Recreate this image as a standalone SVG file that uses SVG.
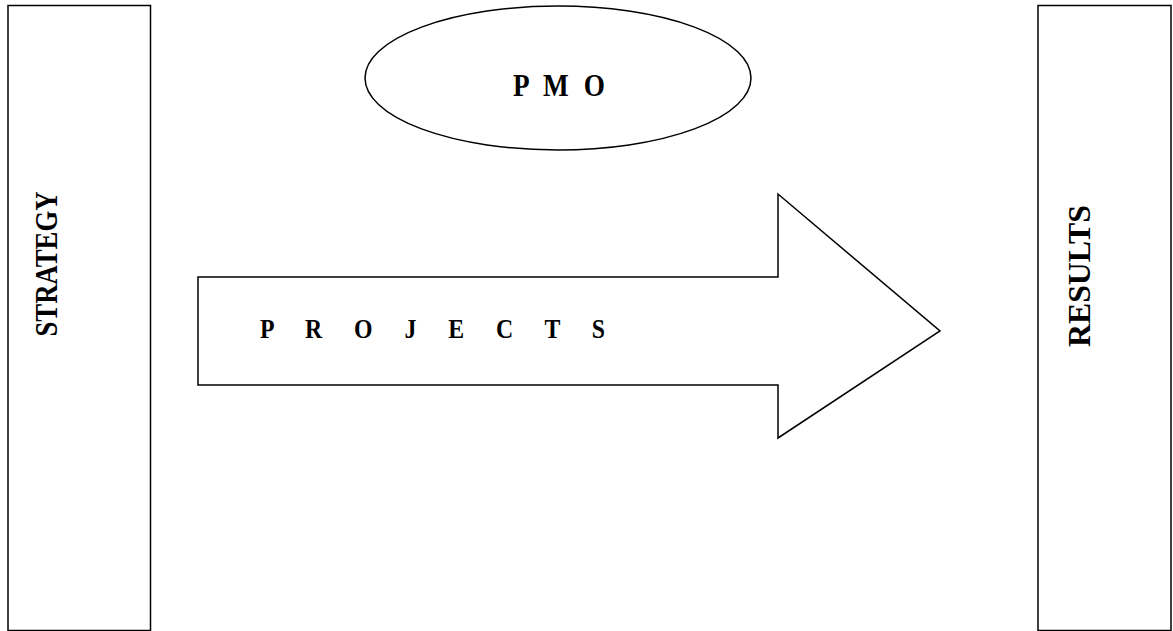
<svg xmlns="http://www.w3.org/2000/svg" width="1173" height="631" viewBox="0 0 1173 631">
<style>
.shape{fill:#fff;stroke:#000;stroke-width:1.5}
.lbl{font-family:"Liberation Serif","Times New Roman",serif;font-weight:bold;fill:#000}
</style>
<rect width="1173" height="631" fill="#fff"/>
<g id="strategy">
<rect class="shape" x="8" y="5.5" width="142.5" height="625"/>
<text class="lbl" font-size="32" transform="translate(57,264) rotate(-90)" text-anchor="middle" textLength="145" lengthAdjust="spacingAndGlyphs">STRATEGY</text>
</g>
<g id="results">
<rect class="shape" x="1038" y="5.5" width="133" height="625"/>
<text class="lbl" font-size="32" transform="translate(1090,276) rotate(-90)" text-anchor="middle" textLength="142" lengthAdjust="spacingAndGlyphs">RESULTS</text>
</g>
<g id="pmo">
<ellipse class="shape" cx="558" cy="78" rx="193" ry="72"/>
<text class="lbl" font-size="32" transform="translate(513,96) scale(0.85,1)" textLength="108" lengthAdjust="spacing">P M O</text>
</g>
<g id="connectors">
<g id="projects">
<polygon class="shape" points="198,277 778,277 778,194 940,331 778,438 778,385 198,385"/>
<text class="lbl" font-size="28" transform="translate(260,338) scale(0.85,1)" textLength="406" lengthAdjust="spacing">P R O J E C T S</text>
</g>
</g>
</svg>
